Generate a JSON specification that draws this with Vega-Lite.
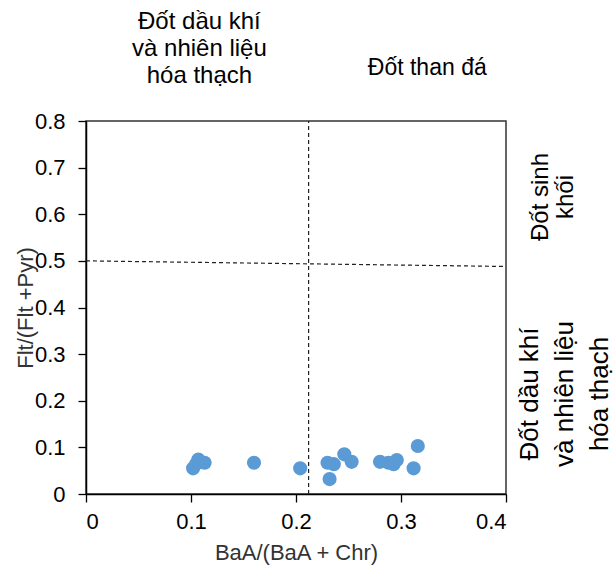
{
  "$schema": "https://vega.github.io/schema/vega-lite/v6.json",
  "autosize": "none",
  "width": 420,
  "height": 373,
  "padding": {"left": 86, "top": 121, "right": 108, "bottom": 80},
  "background": "white",
  "config": {
    "view": {"stroke": "#333333", "strokeWidth": 1.5},
    "font": "Liberation Sans",
    "axis": {
      "grid": false,
      "domainColor": "#000000",
      "domainWidth": 1.5,
      "tickColor": "#000000",
      "tickWidth": 1.3,
      "tickSize": 8,
      "labelFont": "Liberation Sans",
      "labelFontSize": 22,
      "labelColor": "#000000",
      "titleFont": "Liberation Sans",
      "titleFontSize": 22,
      "titleFontWeight": "normal",
      "titleColor": "#333333"
    }
  },
  "datasets": {
    "points": [
      {"ratio_baa": 0.102, "ratio_flt": 0.055},
      {"ratio_baa": 0.105, "ratio_flt": 0.065},
      {"ratio_baa": 0.107, "ratio_flt": 0.074},
      {"ratio_baa": 0.113, "ratio_flt": 0.067},
      {"ratio_baa": 0.160, "ratio_flt": 0.067},
      {"ratio_baa": 0.204, "ratio_flt": 0.055},
      {"ratio_baa": 0.230, "ratio_flt": 0.067},
      {"ratio_baa": 0.236, "ratio_flt": 0.064},
      {"ratio_baa": 0.232, "ratio_flt": 0.032},
      {"ratio_baa": 0.246, "ratio_flt": 0.085},
      {"ratio_baa": 0.253, "ratio_flt": 0.069},
      {"ratio_baa": 0.280, "ratio_flt": 0.069},
      {"ratio_baa": 0.288, "ratio_flt": 0.067},
      {"ratio_baa": 0.293, "ratio_flt": 0.064},
      {"ratio_baa": 0.296, "ratio_flt": 0.073},
      {"ratio_baa": 0.312, "ratio_flt": 0.055},
      {"ratio_baa": 0.316, "ratio_flt": 0.103}
    ],
    "lines": [
      {"x": 0, "y": 0.5, "x2": 0.4, "y2": 0.488},
      {"x": 0.212, "y": 0, "x2": 0.212, "y2": 0.8}
    ],
    "labels_top_left": [
      {"x": 0.108, "y": 1.012, "label": "Đốt dầu khí\nvà nhiên liệu\nhóa thạch"}
    ],
    "labels_top_right": [
      {"x": 0.325, "y": 0.914, "label": "Đốt than  đá"}
    ],
    "labels_rot_top": [
      {"x": 0.433, "y": 0.637, "label": "Đốt sinh\nkhối"}
    ],
    "labels_rot_bottom": [
      {"x": 0.4233, "y": 0.2145, "label": "Đốt dầu khí\nvà nhiên liệu\nhóa thạch"}
    ]
  },
  "layer": [
    {
      "data": {"name": "lines"},
      "mark": {"type": "rule", "color": "#222222", "strokeWidth": 1.2, "strokeDash": [4, 3]},
      "encoding": {
        "x": {"field": "x", "type": "quantitative", "scale": {"domain": [0, 0.4], "nice": false}},
        "y": {"field": "y", "type": "quantitative", "scale": {"domain": [0, 0.8], "nice": false}},
        "x2": {"field": "x2"},
        "y2": {"field": "y2"}
      }
    },
    {
      "data": {"name": "points"},
      "mark": {"type": "circle", "color": "#5B9BD5", "opacity": 1, "size": 200},
      "encoding": {
        "x": {
          "field": "ratio_baa", "type": "quantitative",
          "scale": {"domain": [0, 0.4], "nice": false},
          "axis": {"values": [0, 0.1, 0.2, 0.3, 0.4], "format": ".1~f", "labelPadding": 9, "titlePadding": 10},
          "title": "BaA/(BaA + Chr)"
        },
        "y": {
          "field": "ratio_flt", "type": "quantitative",
          "scale": {"domain": [0, 0.8], "nice": false},
          "axis": {"values": [0, 0.1, 0.2, 0.3, 0.4, 0.5, 0.6, 0.7, 0.8], "format": ".1~f", "labelPadding": 13, "titlePadding": -3},
          "title": "Flt/(Flt +Pyr)"
        }
      }
    },
    {
      "data": {"name": "labels_top_left"},
      "mark": {"type": "text", "fontSize": 24, "lineBreak": "\n", "lineHeight": 27, "align": "center", "baseline": "middle", "color": "#000000", "font": "Liberation Sans"},
      "encoding": {
        "x": {"field": "x", "type": "quantitative"},
        "y": {"field": "y", "type": "quantitative"},
        "text": {"field": "label"}
      }
    },
    {
      "data": {"name": "labels_top_right"},
      "mark": {"type": "text", "fontSize": 23, "align": "center", "baseline": "middle", "color": "#000000", "font": "Liberation Sans"},
      "encoding": {
        "x": {"field": "x", "type": "quantitative"},
        "y": {"field": "y", "type": "quantitative"},
        "text": {"field": "label"}
      }
    },
    {
      "data": {"name": "labels_rot_top"},
      "mark": {"type": "text", "fontSize": 24, "angle": 270, "lineBreak": "\n", "lineHeight": 25, "align": "center", "baseline": "middle", "color": "#000000", "font": "Liberation Sans"},
      "encoding": {
        "x": {"field": "x", "type": "quantitative"},
        "y": {"field": "y", "type": "quantitative"},
        "text": {"field": "label"}
      }
    },
    {
      "data": {"name": "labels_rot_bottom"},
      "mark": {"type": "text", "fontSize": 26, "angle": 270, "lineBreak": "\n", "lineHeight": 35, "align": "center", "baseline": "middle", "color": "#000000", "font": "Liberation Sans"},
      "encoding": {
        "x": {"field": "x", "type": "quantitative"},
        "y": {"field": "y", "type": "quantitative"},
        "text": {"field": "label"}
      }
    }
  ]
}
